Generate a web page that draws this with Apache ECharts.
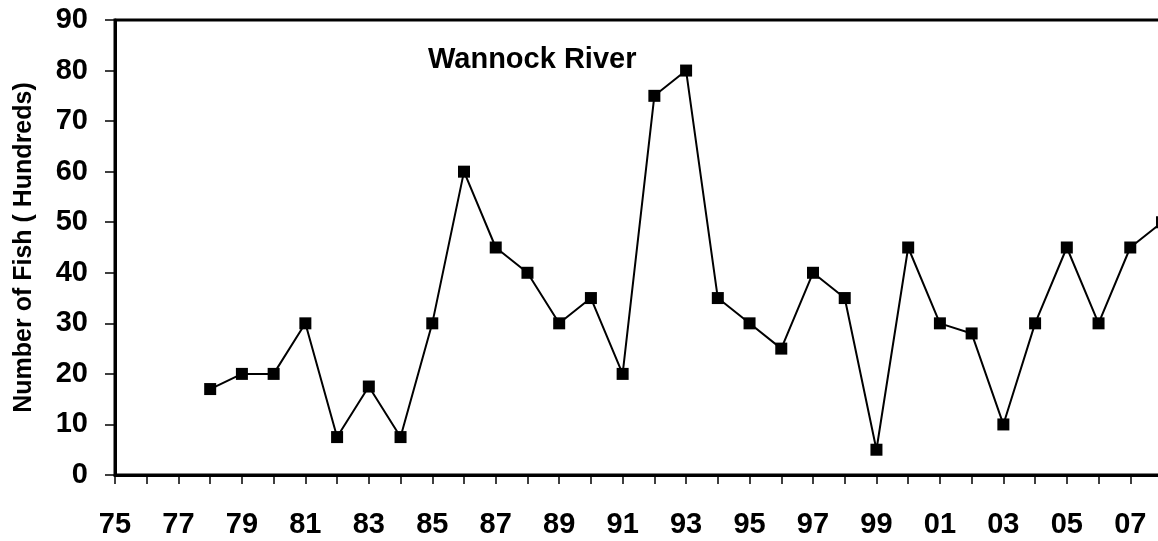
<!DOCTYPE html>
<html>
<head>
<meta charset="utf-8">
<script src="https://cdn.jsdelivr.net/npm/echarts@6/dist/echarts.min.js"></script>
<style>
  html, body { margin: 0; padding: 0; background: #fff; }
  #chart { width: 1158px; height: 541px; }
</style>
</head>
<body>
<div id="chart"></div>
<script>
// years 1975 - 2008, shown as two digits
const years = ["75", "76", "77", "78", "79", "80", "81", "82", "83", "84",
  "85", "86", "87", "88", "89", "90", "91", "92", "93", "94",
  "95", "96", "97", "98", "99", "00", "01", "02", "03", "04",
  "05", "06", "07", "08"];
// number of fish (hundreds), no counts before 78
const fishCount = [null, null, null, 17, 20, 20, 30, 7.5, 17.5, 7.5,
  30, 60, 45, 40, 30, 35, 20, 75, 80, 35,
  30, 25, 40, 35, 5, 45, 30, 28, 10, 30,
  45, 30, 45, 50];
const yTicks = { min: 0, max: 90, step: 10 };

const chartDom = echarts.init(document.getElementById("chart"));
const font = "'Liberation Sans', Arial, sans-serif";

chartDom.setOption({
  animation: false,
  backgroundColor: "#fff",
  title: {
    text: "Wannock River",
    left: 423,
    top: 40,
    textStyle: {
      fontFamily: font,
      fontWeight: "bold",
      fontSize: 29,
      color: "#000",
    },
  },
  grid: {
    left: 115,
    top: 20,
    right: -4,
    bottom: 66,
    outerBoundsMode: "none",
    containLabel: false,
    show: true,
    borderColor: "#000",
    borderWidth: 3,
  },
  xAxis: {
    type: "category",
    data: years,
    boundaryGap: false,
    axisLine: {
      lineStyle: { color: "#000", width: 3 },
    },
    axisTick: {
      interval: 0,
      length: 9,
      lineStyle: { color: "#000", width: 1.5 },
    },
    axisLabel: {
      interval: 1,
      margin: 35,
      color: "#000",
      fontFamily: font,
      fontWeight: "bold",
      fontSize: 29,
    },
    splitLine: { show: false },
  },
  yAxis: {
    type: "value",
    min: yTicks.min,
    max: yTicks.max,
    interval: yTicks.step,
    name: "Number of Fish ( Hundreds)",
    nameLocation: "middle",
    nameRotate: 90,
    nameGap: 78,
    nameTextStyle: {
      color: "#000",
      fontFamily: font,
      fontWeight: "bold",
      fontSize: 25,
    },
    axisLine: {
      show: true,
      lineStyle: { color: "#000", width: 3 },
    },
    axisTick: {
      show: true,
      length: 10,
      lineStyle: { color: "#000", width: 1.5 },
    },
    axisLabel: {
      margin: 27,
      color: "#000",
      fontFamily: font,
      fontWeight: "bold",
      fontSize: 29,
    },
    splitLine: { show: false },
  },
  series: [
    {
      name: "Wannock River",
      type: "line",
      data: fishCount,
      symbol: "rect",
      symbolSize: 12,
      connectNulls: false,
      lineStyle: { color: "#000", width: 2 },
      itemStyle: { color: "#000" },
      clip: false,
    },
  ],
});
</script>
</body>
</html>
